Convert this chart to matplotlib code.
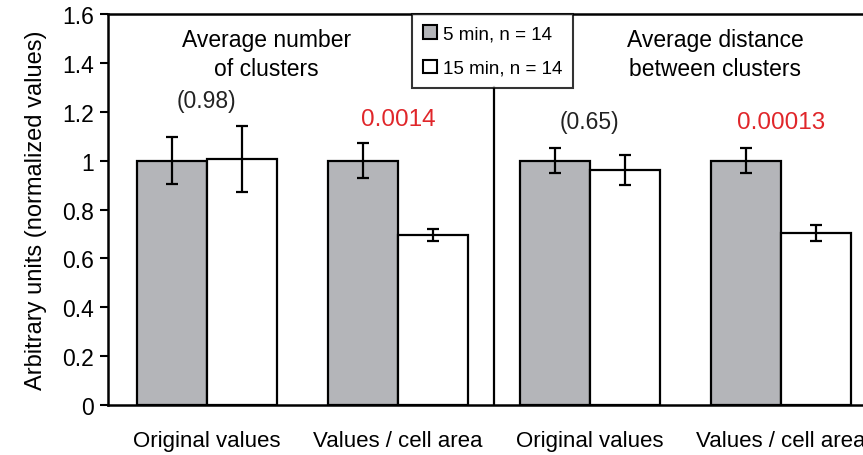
import matplotlib.pyplot as plt
from matplotlib.patches import Patch

plt.rcParams['font.family'] = ['Liberation Sans', 'DejaVu Sans']

categories = ['Original values', 'Values / cell area', 'Original values', 'Values / cell area']
min5_mean = [1.0, 1.0, 1.0, 1.0]
min5_err = [0.095, 0.073, 0.051, 0.052]
min15_mean = [1.006, 0.696, 0.962, 0.704]
min15_err = [0.135, 0.025, 0.062, 0.031]
pvalues = ['(0.98)', '0.0014', '(0.65)', '0.00013']
p_significant = [False, True, False, True]
panel_titles = ['Average number\nof clusters', 'Average distance\nbetween clusters']

# where the annotations sit (data coords)
pval_y = [1.245, 1.172, 1.16, 1.16]
title_x = [0.31, 2.656]

gray = '#b4b5b9'
red = '#e0262a'
w = 0.365

fig = plt.figure(figsize=(8.63, 4.56), dpi=100)
ax = fig.add_axes([0.1251, 0.1096, 0.883, 0.8575])

x = list(range(len(categories)))
left = [i - w / 2 for i in x]
right = [i + w / 2 for i in x]

ax.bar(left, min5_mean, width=w, color=gray, edgecolor='black', linewidth=1.6, zorder=2)
ax.bar(right, min15_mean, width=w, color='white', edgecolor='black', linewidth=1.6, zorder=2)
ax.errorbar(left, min5_mean, yerr=min5_err, fmt='none', ecolor='black',
            elinewidth=1.6, capsize=4, capthick=1.6, zorder=3)
ax.errorbar(right, min15_mean, yerr=min15_err, fmt='none', ecolor='black',
            elinewidth=1.6, capsize=4, capthick=1.6, zorder=3)

for i, (p, sig) in enumerate(zip(pvalues, p_significant)):
    if sig:
        ax.text(i, pval_y[i], p, ha='center', va='center', fontsize=17.5, color=red)
    else:
        ax.text(i, pval_y[i], p, ha='center', va='center', fontsize=16.5, color='#222222')

for tx, title in zip(title_x, panel_titles):
    ax.text(tx, 1.437, title, ha='center', va='center', fontsize=16.5,
            linespacing=1.35)

# separator between the two measures
ax.axvline(1.5, ymin=0, ymax=0.813, color='black', linewidth=1.6, zorder=1)

ax.set_xlim(-0.516, 3.464)
ax.set_ylim(0, 1.6)
ax.set_yticks([0, 0.2, 0.4, 0.6, 0.8, 1.0, 1.2, 1.4, 1.6])
ax.set_yticklabels(['0', '0.2', '0.4', '0.6', '0.8', '1', '1.2', '1.4', '1.6'])
ax.set_xticks(x)
ax.set_xticklabels(categories)
ax.tick_params(axis='x', length=0, pad=18, labelsize=16)
ax.tick_params(axis='y', direction='out', length=6, width=1.5, labelsize=16.5, pad=4)
ax.set_ylabel('Arbitrary units (normalized values)', fontsize=17, labelpad=11)

for side in ['left', 'bottom', 'top']:
    ax.spines[side].set_linewidth(1.8)
ax.spines['right'].set_visible(False)

handles = [Patch(facecolor=gray, edgecolor='black', linewidth=1.5, label='5 min, n = 14'),
           Patch(facecolor='white', edgecolor='black', linewidth=1.5, label='15 min, n = 14')]
leg = ax.legend(handles=handles, loc='upper left', bbox_to_anchor=(0.3985, 1.0),
                fontsize=13.5, frameon=True, fancybox=False, edgecolor='black',
                handlelength=0.75, handleheight=0.75, handletextpad=0.3,
                borderpad=0.6, labelspacing=0.9, borderaxespad=0)
leg.get_frame().set_linewidth(1.5)

plt.savefig('out.png', dpi=100)
